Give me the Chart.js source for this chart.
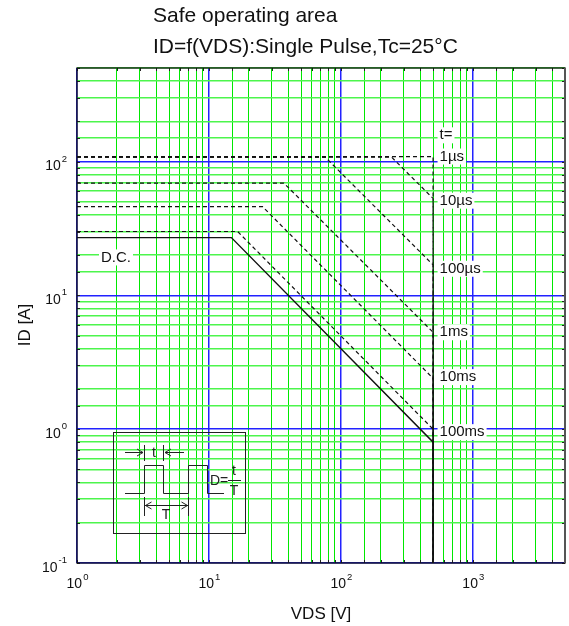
<!DOCTYPE html>
<html>
<head>
<meta charset="utf-8">
<script src="https://cdn.jsdelivr.net/npm/chart.js@4.4.1/dist/chart.umd.min.js"></script>
<style>
  html, body { margin: 0; padding: 0; background: #fff; }
  #wrap { width: 569px; height: 626px; }
</style>
</head>
<body>
<div id="wrap"><canvas id="soa" width="569" height="626"></canvas></div>
<script>
const FONT = '"Liberation Sans", Arial, Helvetica, sans-serif';
const GREEN_V = '#00e800';
const GREEN_H = '#4cf54c';
const BLUE = '#2222ff';

// SOA curves, VDS [V] -> ID [A]
const vdsDC    = [1, 14.8, 500, 500];
const idDC     = [27, 27, 0.8, 0.1];
const vds100ms = [1, 16.5, 500, 500];
const id100ms  = [30, 30, 1.0, 0.1];
const vds10ms  = [1, 25.5, 500, 500];
const id10ms   = [46, 46, 2.4, 0.1];
const vds1ms   = [1, 37, 500, 500];
const id1ms    = [69, 69, 5.3, 0.1];
const vds100us = [1, 76, 500, 500];
const id100us  = [108, 108, 16.9, 0.1];
const vds10us  = [1, 242, 500, 500];
const id10us   = [108, 108, 53, 0.1];
const vds1us   = [1, 500, 500];
const id1us    = [109, 109, 0.1];

// curve labels on the right (t= header + pulse widths)
const pulseLabels = ['t=', '1µs', '10µs', '100µs', '1ms', '10ms', '100ms'];
const pulseLabelY = [157, 109, 51, 15.8, 5.3, 2.45, 0.95];
const pulseLabelX = 560;

// axis decade labels (exponents of 10)
const xExps = [0, 1, 2, 3];
const yExps = [-1, 0, 1, 2];

const isDecade = v => {
  const l = Math.log10(v);
  return Math.abs(l - Math.round(l)) < 1e-6;
};

const line = (xs, ys, dashed) => ({
  data: xs.map((x, i) => ({ x: x, y: ys[i] })),
  borderColor: '#111',
  borderWidth: dashed ? 1.2 : 1.4,
  borderDash: dashed ? [4, 3] : [],
  pointRadius: 0,
  fill: false,
  tension: 0
});

const drawPow = (ctx, exp, x, y, align) => {
  // "10" with raised exponent
  ctx.font = '14px ' + FONT;
  const base = '10';
  const bw = ctx.measureText(base).width;
  ctx.font = '9.5px ' + FONT;
  const es = String(exp);
  const ew = ctx.measureText(es).width;
  let left = x;
  if (align === 'right') left = x - bw - ew - 1;
  if (align === 'center') left = x - (bw + ew + 1) / 2;
  ctx.textAlign = 'left';
  ctx.textBaseline = 'alphabetic';
  ctx.font = '14px ' + FONT;
  ctx.fillText(base, left, y);
  ctx.font = '9.5px ' + FONT;
  ctx.fillText(es, left + bw + 1, y - 8.5);
};

const arrowHead = (ctx, x, y, dir) => {
  ctx.beginPath();
  ctx.moveTo(x - dir * 6, y - 3.5);
  ctx.lineTo(x, y);
  ctx.lineTo(x - dir * 6, y + 3.5);
  ctx.stroke();
};

const drawInset = (ctx) => {
  ctx.save();
  ctx.strokeStyle = '#222';
  ctx.lineWidth = 1;
  ctx.strokeRect(113.5, 432.5, 132, 101);
  // waveform
  ctx.beginPath();
  ctx.moveTo(125, 493.5);
  ctx.lineTo(144.5, 493.5); ctx.lineTo(144.5, 465.5);
  ctx.lineTo(163.5, 465.5); ctx.lineTo(163.5, 493.5);
  ctx.lineTo(188.5, 493.5); ctx.lineTo(188.5, 465.5);
  ctx.lineTo(207.5, 465.5); ctx.lineTo(207.5, 493.5);
  ctx.lineTo(224, 493.5);
  ctx.stroke();
  // t marker
  ctx.beginPath();
  ctx.moveTo(144.5, 445); ctx.lineTo(144.5, 461);
  ctx.moveTo(163.5, 445); ctx.lineTo(163.5, 461);
  ctx.moveTo(125, 452.5); ctx.lineTo(143, 452.5);
  ctx.moveTo(184, 452.5); ctx.lineTo(165, 452.5);
  ctx.stroke();
  arrowHead(ctx, 143, 452.5, 1);
  arrowHead(ctx, 165, 452.5, -1);
  // T marker
  ctx.beginPath();
  ctx.moveTo(144.5, 497); ctx.lineTo(144.5, 516);
  ctx.moveTo(188.5, 497); ctx.lineTo(188.5, 516);
  ctx.moveTo(145, 505.5); ctx.lineTo(188, 505.5);
  ctx.stroke();
  arrowHead(ctx, 145.5, 505.5, -1);
  arrowHead(ctx, 187.5, 505.5, 1);
  // D = t / T
  ctx.fillStyle = '#222';
  ctx.font = '14px ' + FONT;
  ctx.textBaseline = 'middle';
  ctx.textAlign = 'center';
  ctx.fillText('t', 154, 453);
  ctx.fillText('T', 166, 515);
  ctx.textAlign = 'left';
  ctx.fillText('D=', 210, 481);
  ctx.textAlign = 'center';
  ctx.fillText('t', 234, 471);
  ctx.fillText('T', 234, 491);
  ctx.beginPath();
  ctx.moveTo(228, 480.5); ctx.lineTo(241, 480.5);
  ctx.stroke();
  ctx.restore();
};

const soaDecor = {
  id: 'soaDecor',
  afterDatasetsDraw(chart) {
    const ctx = chart.ctx;
    const xs = chart.scales.x, ys = chart.scales.y;
    ctx.save();
    ctx.font = '15px ' + FONT;
    ctx.textBaseline = 'middle';
    ctx.textAlign = 'left';
    pulseLabels.forEach((t, i) => {
      const px = xs.getPixelForValue(pulseLabelX);
      const py = ys.getPixelForValue(pulseLabelY[i]);
      const w = ctx.measureText(t).width;
      ctx.fillStyle = '#fff';
      ctx.fillRect(px - 2, py - 8, w + 4, 16);
      ctx.fillStyle = '#111';
      ctx.fillText(t, px, py);
    });
    // D.C. label
    const dx = xs.getPixelForValue(1.52), dy = ys.getPixelForValue(19.2);
    const dw = ctx.measureText('D.C.').width;
    ctx.fillStyle = '#fff';
    ctx.fillRect(dx - 2, dy - 8, dw + 4, 16);
    ctx.fillStyle = '#111';
    ctx.fillText('D.C.', dx, dy);
    ctx.restore();
    drawInset(ctx);
  },
  afterDraw(chart) {
    const ctx = chart.ctx;
    const ca = chart.chartArea;
    const xs = chart.scales.x, ys = chart.scales.y;
    ctx.save();
    // tick marks inside the frame
    ctx.strokeStyle = '#222';
    ctx.lineWidth = 1;
    ctx.beginPath();
    xs.ticks.forEach(t => {
      const p = Math.round(xs.getPixelForValue(t.value)) + 0.5;
      ctx.moveTo(p, ca.bottom); ctx.lineTo(p, ca.bottom - 3);
      ctx.moveTo(p, ca.top); ctx.lineTo(p, ca.top + 3);
    });
    ys.ticks.forEach(t => {
      const p = Math.round(ys.getPixelForValue(t.value)) + 0.5;
      ctx.moveTo(ca.left, p); ctx.lineTo(ca.left + 3, p);
      ctx.moveTo(ca.right, p); ctx.lineTo(ca.right - 3, p);
    });
    ctx.stroke();
    // frame
    ctx.strokeStyle = '#111';
    ctx.lineWidth = 1.3;
    ctx.strokeRect(ca.left, ca.top, ca.right - ca.left, ca.bottom - ca.top);
    ctx.strokeStyle = '#555';
    ctx.lineWidth = 2;
    ctx.beginPath();
    ctx.moveTo(ca.right, ca.top); ctx.lineTo(ca.right, ca.bottom);
    ctx.stroke();

    // decade labels
    ctx.fillStyle = '#111';
    xExps.forEach(e => {
      const p = xs.getPixelForValue(Math.pow(10, e));
      drawPow(ctx, e, p + 0.5, ca.bottom + 25, 'center');
    });
    yExps.forEach(e => {
      const p = ys.getPixelForValue(Math.pow(10, e));
      drawPow(ctx, e, 67, p + 8.5, 'right');
    });

    // axis titles
    ctx.font = '17px ' + FONT;
    ctx.textAlign = 'center';
    ctx.textBaseline = 'alphabetic';
    ctx.fillText('VDS [V]', (ca.left + ca.right) / 2, 619);
    ctx.save();
    ctx.translate(29.5, 325);
    ctx.rotate(-Math.PI / 2);
    ctx.fillText('ID [A]', 0, 0);
    ctx.restore();

    // title
    ctx.font = '21px ' + FONT;
    ctx.textAlign = 'left';
    ctx.fillText('Safe operating area', 153, 22);
    ctx.fillText('ID=f(VDS):Single Pulse,Tc=25°C', 153, 53);
    ctx.restore();
  }
};

new Chart(document.getElementById('soa'), {
  type: 'line',
  data: {
    datasets: [
      line(vds1us, id1us, true),
      line(vds10us, id10us, true),
      line(vds100us, id100us, true),
      line(vds1ms, id1ms, true),
      line(vds10ms, id10ms, true),
      line(vds100ms, id100ms, true),
      line(vdsDC, idDC, false)
    ]
  },
  options: {
    responsive: false,
    animation: false,
    devicePixelRatio: 1,
    layout: { padding: { left: 77, top: 68, right: 4, bottom: 63 } },
    plugins: {
      legend: { display: false },
      tooltip: { enabled: false },
      title: { display: false }
    },
    scales: {
      x: {
        type: 'logarithmic',
        min: 1,
        max: 5000,
        ticks: { display: false },
        border: { display: false },
        grid: {
          drawTicks: false,
          color: c => isDecade(c.tick.value) ? BLUE : GREEN_V,
          lineWidth: c => isDecade(c.tick.value) ? 1.5 : 1
        }
      },
      y: {
        type: 'logarithmic',
        min: 0.1,
        max: 500,
        ticks: { display: false },
        border: { display: false },
        grid: {
          drawTicks: false,
          color: c => isDecade(c.tick.value) ? BLUE : GREEN_H,
          lineWidth: 1.5
        }
      }
    }
  },
  plugins: [soaDecor]
});
</script>
</body>
</html>
